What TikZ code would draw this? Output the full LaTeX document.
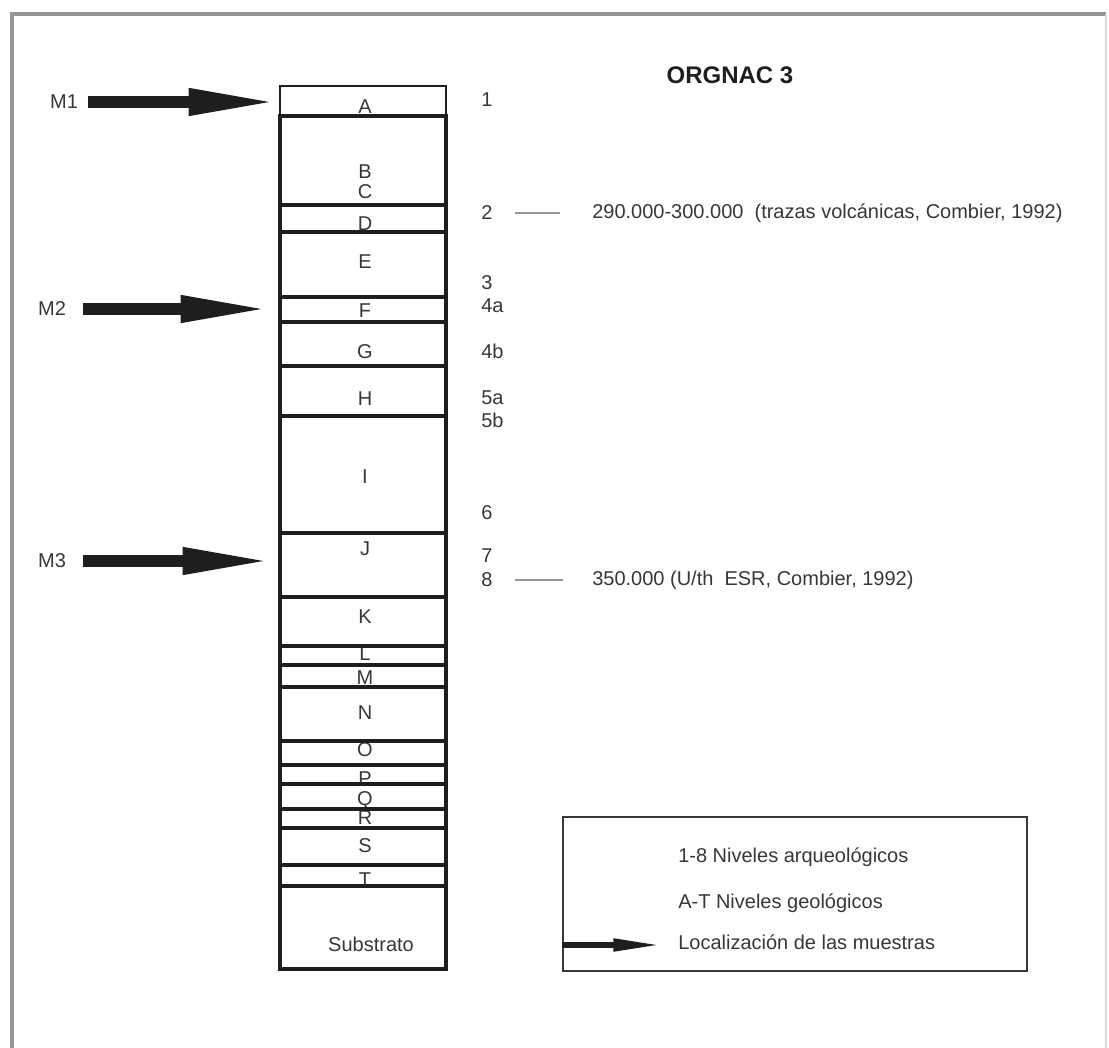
\documentclass[tikz,border=0pt]{standalone}
\usepackage{fontspec}
\setmainfont{Liberation Sans}
\usepackage{tikz}
\usetikzlibrary{arrows.meta}
\definecolor{grisMarco}{RGB}{150,150,150}
\definecolor{grisTexto}{RGB}{55,55,55}
\definecolor{negroFlecha}{RGB}{30,30,30}

\begin{document}
\begin{tikzpicture}[x=0.75pt, y=-0.75pt,
    capa/.style={line width=2.6pt, draw=negroFlecha},
    letra/.style={font=\fontsize{15}{18}\selectfont, text=grisTexto, inner sep=0pt},
    nivel/.style={letra, anchor=west},
    muestra/.style={line width=8.5pt, draw=negroFlecha, -{Triangle[length=67pt, width=18.5pt]}},
    muestraChica/.style={line width=3.8pt, draw=negroFlecha, -{Triangle[length=35pt, width=9pt]}},
    guion/.style={line width=1pt, draw=grisMarco}
]
    \useasboundingbox (0,0) rectangle (1109,1048);

    % marco exterior
    \draw[grisMarco, line width=2.6pt] (12,1048) -- (12,14) -- (1106,14);
    \draw[grisMarco!35, line width=1.2pt] (1106,14) -- (1106,1048);

    \node[font=\fontsize{18}{22}\selectfont\bfseries, text=negroFlecha, inner sep=0pt] (titulo) at (730,75) {ORGNAC 3};

    % columna estratigrafica
    \foreach \l/\y in {A/107, B/172, C/192, D/224, E/262, F/311, G/352, H/399, I/477, J/549,
                       K/617, L/654, M/678, N/713, O/750, P/779, Q/800, R/818, S/846, T/880}
        \node[letra] (capa\l) at (365,\y) {\l};
    \node[letra] (substrato) at (371,944) {Substrato};

    \draw[capa, line width=1.6pt] (280,116) -- (280,86) -- (446,86) -- (446,116);
    \draw[capa] (280,116) rectangle (446,969);
    \foreach \y in {205,232,297,322,366,416,533,597,646,665,687,741,765,784,809,828,865,886}
        \draw[capa] (280,\y) -- (446,\y);

    \coordinate (colIzq) at (280,0);

    % niveles arqueologicos
    \foreach \n/\y in {1/100, 2/213, 3/283, 4a/306, 4b/351, 5a/398, 5b/420, 6/513, 7/556, 8/580}
        \node[nivel] (n\n) at (481,\y) {\n};

    \node[nivel] (fecha1) at (592,213) {290.000-300.000 \ (trazas volcánicas, Combier, 1992)};
    \node[nivel] (fecha2) at (592,580) {350.000 (U/th \ ESR, Combier, 1992)};
    \draw[guion, shorten <=17pt, shorten >=24pt] (n2.east) -- (fecha1.west);
    \draw[guion, shorten <=17pt, shorten >=22pt] (n8.east) -- (fecha2.west);

    % muestras
    \node[letra] (m1) at (64,102) {M1};
    \node[letra] (m2) at (52,309) {M2};
    \node[letra] (m3) at (52,561) {M3};
    \draw[muestra, shorten <=7.5pt, shorten >=1.5pt] (m1.east) -- (m1.east -| colIzq);
    \draw[muestra, shorten <=13pt, shorten >=7.5pt] (m2.east) -- (m2.east -| colIzq);
    \draw[muestra, shorten <=13pt, shorten >=6pt] (m3.east) -- (m3.east -| colIzq);

    % leyenda
    \node[draw=grisTexto, line width=1.5pt, minimum width=348pt, minimum height=115.5pt, inner sep=0pt] (leyenda) at (795,894) {};
    \node[nivel] (ley1) at (678,857) {1-8 Niveles arqueológicos};
    \node[nivel] (ley2) at (678,903) {A-T Niveles geológicos};
    \node[nivel] (ley3) at (678,942) {Localización de las muestras};
    \coordinate (puntaLeyenda) at (660,945);
    \draw[muestraChica] (puntaLeyenda -| leyenda.west) -- (puntaLeyenda);
\end{tikzpicture}
\end{document}
